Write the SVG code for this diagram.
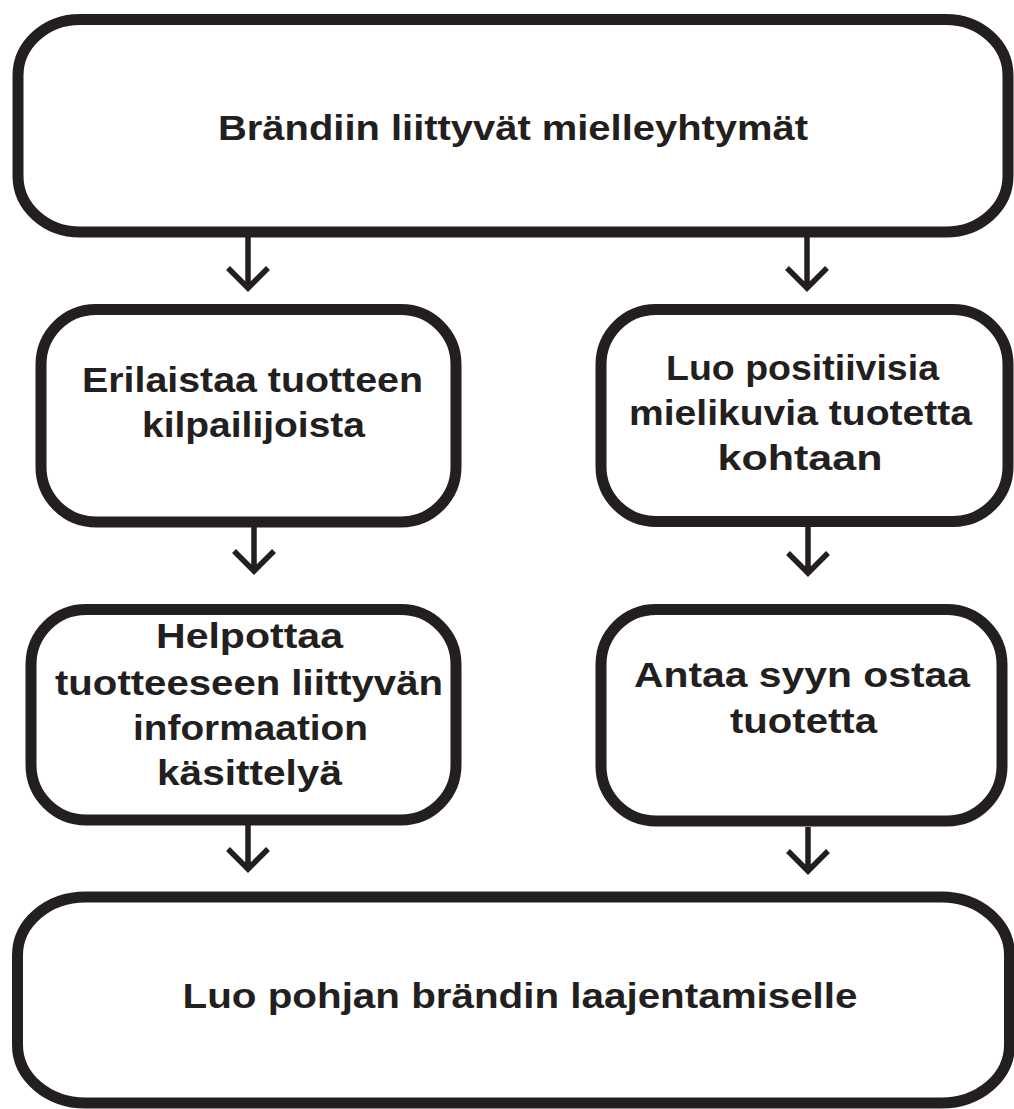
<svg xmlns="http://www.w3.org/2000/svg" width="1014" height="1109" viewBox="0 0 1014 1109">
<style>
.box{fill:#fff;stroke:#231f20;stroke-width:11}
.lbl{font-family:"Liberation Sans",Arial,sans-serif;font-weight:bold;font-size:35px;fill:#231f20;text-anchor:middle}
.arr{fill:none;stroke:#231f20;stroke-width:5.5;stroke-linejoin:miter;stroke-miterlimit:10}
</style>
<rect width="1014" height="1109" fill="#fff"/>
<g id="n1">
<rect class="box" x="18" y="19.5" width="990" height="212.5" rx="62" ry="56"/>
<text class="lbl" x="513" y="140" textLength="590" lengthAdjust="spacingAndGlyphs">Brändiin liittyvät mielleyhtymät</text>
</g>
<g id="n2">
<rect class="box" x="41" y="309.5" width="415" height="212.5" rx="55" ry="55"/>
<text class="lbl" x="252.5" y="392" textLength="341" lengthAdjust="spacingAndGlyphs">Erilaistaa tuotteen</text>
<text class="lbl" x="253.5" y="437" textLength="223" lengthAdjust="spacingAndGlyphs">kilpailijoista</text>
</g>
<g id="n3">
<rect class="box" x="601" y="309.5" width="407" height="212" rx="55" ry="55"/>
<text class="lbl" x="802.5" y="380" textLength="273" lengthAdjust="spacingAndGlyphs">Luo positiivisia</text>
<text class="lbl" x="800.5" y="425" textLength="343" lengthAdjust="spacingAndGlyphs">mielikuvia tuotetta</text>
<text class="lbl" x="800" y="470" textLength="165" lengthAdjust="spacingAndGlyphs">kohtaan</text>
</g>
<g id="n4">
<rect class="box" x="31" y="609.5" width="425" height="210.5" rx="55" ry="55"/>
<text class="lbl" x="249.5" y="648" textLength="187" lengthAdjust="spacingAndGlyphs">Helpottaa</text>
<text class="lbl" x="249" y="695" textLength="388" lengthAdjust="spacingAndGlyphs">tuotteeseen liittyvän</text>
<text class="lbl" x="250.5" y="740" textLength="235" lengthAdjust="spacingAndGlyphs">informaation</text>
<text class="lbl" x="249.5" y="785" textLength="185" lengthAdjust="spacingAndGlyphs">käsittelyä</text>
</g>
<g id="n5">
<rect class="box" x="601" y="609.5" width="401" height="211.5" rx="55" ry="55"/>
<text class="lbl" x="802" y="687" textLength="336" lengthAdjust="spacingAndGlyphs">Antaa syyn ostaa</text>
<text class="lbl" x="803.5" y="733" textLength="147" lengthAdjust="spacingAndGlyphs">tuotetta</text>
</g>
<g id="n6">
<rect class="box" x="17.5" y="897" width="992" height="206" rx="68" ry="58"/>
<text class="lbl" x="520" y="1008" textLength="675" lengthAdjust="spacingAndGlyphs">Luo pohjan brändin laajentamiselle</text>
</g>
<g id="connectors">
<path class="arr" d="M248 237V288M228 268L248 288L268 268"/>
<path class="arr" d="M807 237V288M787 268L807 288L827 268"/>
<path class="arr" d="M254 527V571M234 551L254 571L274 551"/>
<path class="arr" d="M808 527V573M788 553L808 573L828 553"/>
<path class="arr" d="M248 825V869M228 849L248 869L268 849"/>
<path class="arr" d="M808 827V871M788 851L808 871L828 851"/>
</g>
</svg>
